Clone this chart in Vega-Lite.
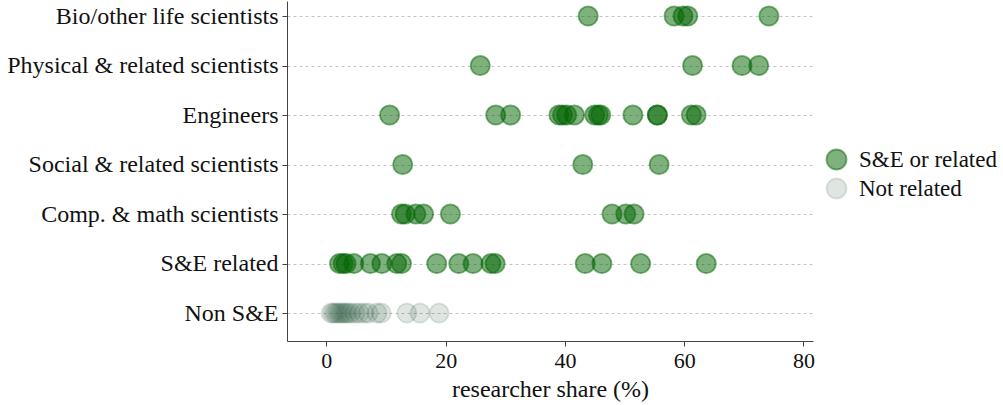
{
  "$schema": "https://vega.github.io/schema/vega-lite/v6.json",
  "autosize": "none",
  "width": 526,
  "height": 340,
  "padding": {"left": 287, "top": 1, "right": 190, "bottom": 64},
  "background": "white",
  "config": {
    "font": "Liberation Serif",
    "view": {"stroke": null},
    "legend": {
      "title": null, "orient": "none", "legendX": 538, "legendY": 147,
      "labelFontSize": 23, "labelColor": "#111", "symbolSize": 400, "symbolStrokeWidth": 1.8,
      "rowPadding": 0, "labelOffset": 11, "padding": 0, "labelLimit": 300
    }
  },
  "data": {
    "values": [
      {"occ": "Bio/other life scientists", "share": 43.9, "type": "S&E or related"},
      {"occ": "Bio/other life scientists", "share": 58.3, "type": "S&E or related"},
      {"occ": "Bio/other life scientists", "share": 59.8, "type": "S&E or related"},
      {"occ": "Bio/other life scientists", "share": 60.6, "type": "S&E or related"},
      {"occ": "Bio/other life scientists", "share": 74.2, "type": "S&E or related"},
      {"occ": "Physical & related scientists", "share": 25.8, "type": "S&E or related"},
      {"occ": "Physical & related scientists", "share": 61.4, "type": "S&E or related"},
      {"occ": "Physical & related scientists", "share": 69.7, "type": "S&E or related"},
      {"occ": "Physical & related scientists", "share": 72.5, "type": "S&E or related"},
      {"occ": "Engineers", "share": 10.6, "type": "S&E or related"},
      {"occ": "Engineers", "share": 28.4, "type": "S&E or related"},
      {"occ": "Engineers", "share": 30.9, "type": "S&E or related"},
      {"occ": "Engineers", "share": 39.0, "type": "S&E or related"},
      {"occ": "Engineers", "share": 39.6, "type": "S&E or related"},
      {"occ": "Engineers", "share": 40.3, "type": "S&E or related"},
      {"occ": "Engineers", "share": 41.6, "type": "S&E or related"},
      {"occ": "Engineers", "share": 45.0, "type": "S&E or related"},
      {"occ": "Engineers", "share": 45.6, "type": "S&E or related"},
      {"occ": "Engineers", "share": 46.0, "type": "S&E or related"},
      {"occ": "Engineers", "share": 51.4, "type": "S&E or related"},
      {"occ": "Engineers", "share": 55.5, "type": "S&E or related"},
      {"occ": "Engineers", "share": 55.5, "type": "S&E or related"},
      {"occ": "Engineers", "share": 61.2, "type": "S&E or related"},
      {"occ": "Engineers", "share": 62.0, "type": "S&E or related"},
      {"occ": "Social & related scientists", "share": 12.8, "type": "S&E or related"},
      {"occ": "Social & related scientists", "share": 43.0, "type": "S&E or related"},
      {"occ": "Social & related scientists", "share": 55.8, "type": "S&E or related"},
      {"occ": "Comp. & math scientists", "share": 12.6, "type": "S&E or related"},
      {"occ": "Comp. & math scientists", "share": 13.2, "type": "S&E or related"},
      {"occ": "Comp. & math scientists", "share": 15.0, "type": "S&E or related"},
      {"occ": "Comp. & math scientists", "share": 16.3, "type": "S&E or related"},
      {"occ": "Comp. & math scientists", "share": 20.8, "type": "S&E or related"},
      {"occ": "Comp. & math scientists", "share": 47.9, "type": "S&E or related"},
      {"occ": "Comp. & math scientists", "share": 50.2, "type": "S&E or related"},
      {"occ": "Comp. & math scientists", "share": 51.6, "type": "S&E or related"},
      {"occ": "S&E related", "share": 2.2, "type": "S&E or related"},
      {"occ": "S&E related", "share": 2.8, "type": "S&E or related"},
      {"occ": "S&E related", "share": 3.3, "type": "S&E or related"},
      {"occ": "S&E related", "share": 4.6, "type": "S&E or related"},
      {"occ": "S&E related", "share": 7.4, "type": "S&E or related"},
      {"occ": "S&E related", "share": 9.3, "type": "S&E or related"},
      {"occ": "S&E related", "share": 11.8, "type": "S&E or related"},
      {"occ": "S&E related", "share": 12.6, "type": "S&E or related"},
      {"occ": "S&E related", "share": 18.5, "type": "S&E or related"},
      {"occ": "S&E related", "share": 22.2, "type": "S&E or related"},
      {"occ": "S&E related", "share": 24.6, "type": "S&E or related"},
      {"occ": "S&E related", "share": 27.6, "type": "S&E or related"},
      {"occ": "S&E related", "share": 28.3, "type": "S&E or related"},
      {"occ": "S&E related", "share": 43.4, "type": "S&E or related"},
      {"occ": "S&E related", "share": 46.2, "type": "S&E or related"},
      {"occ": "S&E related", "share": 52.7, "type": "S&E or related"},
      {"occ": "S&E related", "share": 63.7, "type": "S&E or related"},
      {"occ": "Non S&E", "share": 0.8, "type": "Not related"},
      {"occ": "Non S&E", "share": 1.2, "type": "Not related"},
      {"occ": "Non S&E", "share": 1.6, "type": "Not related"},
      {"occ": "Non S&E", "share": 2.0, "type": "Not related"},
      {"occ": "Non S&E", "share": 2.4, "type": "Not related"},
      {"occ": "Non S&E", "share": 2.8, "type": "Not related"},
      {"occ": "Non S&E", "share": 3.2, "type": "Not related"},
      {"occ": "Non S&E", "share": 3.6, "type": "Not related"},
      {"occ": "Non S&E", "share": 4.1, "type": "Not related"},
      {"occ": "Non S&E", "share": 4.8, "type": "Not related"},
      {"occ": "Non S&E", "share": 5.5, "type": "Not related"},
      {"occ": "Non S&E", "share": 6.3, "type": "Not related"},
      {"occ": "Non S&E", "share": 7.0, "type": "Not related"},
      {"occ": "Non S&E", "share": 8.5, "type": "Not related"},
      {"occ": "Non S&E", "share": 9.2, "type": "Not related"},
      {"occ": "Non S&E", "share": 13.5, "type": "Not related"},
      {"occ": "Non S&E", "share": 15.7, "type": "Not related"},
      {"occ": "Non S&E", "share": 18.9, "type": "Not related"}
    ]
  },
  "mark": {"type": "point", "shape": "circle", "filled": true, "size": 370, "strokeWidth": 1.8, "opacity": 1},
  "encoding": {
    "x": {
      "field": "share", "type": "quantitative",
      "scale": {"domain": [-6.6, 81.6], "nice": false, "zero": false},
      "axis": {
        "title": "researcher share (%)", "values": [0, 20, 40, 60, 80], "grid": false,
        "labelFontSize": 22, "titleFontSize": 24, "titleFontWeight": "normal",
        "labelColor": "#111", "titleColor": "#111",
        "domainColor": "#444", "tickColor": "#444", "tickSize": 5, "labelPadding": 4, "titlePadding": 6
      }
    },
    "y": {
      "field": "occ", "type": "nominal",
      "sort": ["Bio/other life scientists", "Physical & related scientists", "Engineers", "Social & related scientists", "Comp. & math scientists", "S&E related", "Non S&E"],
      "scale": {"type": "point", "padding": 0.434, "align": 0.35},
      "axis": {
        "title": null, "grid": true, "gridDash": [3, 3], "gridColor": "#c4c4c4", "gridWidth": 1,
        "labelFontSize": 24, "labelColor": "#111", "labelPadding": 4, "labelLimit": 400,
        "domainColor": "#444", "tickColor": "#444", "tickSize": 5
      }
    },
    "color": {
      "field": "type", "type": "nominal",
      "scale": {"domain": ["S&E or related", "Not related"], "range": ["#006400", "#285a3c"]},
      "legend": {"symbolOpacity": 1, "encode": {"symbols": {"update": {"fillOpacity": {"signal": "datum.value === 'Not related' ? 0.15 : 0.5"}, "strokeOpacity": {"signal": "datum.value === 'Not related' ? 0.15 : 0.5"}}}}}
    },
    "stroke": {
      "field": "type", "type": "nominal",
      "scale": {"domain": ["S&E or related", "Not related"], "range": ["#006400", "#285a3c"]},
      "legend": {"symbolOpacity": 1, "encode": {"symbols": {"update": {"fillOpacity": {"signal": "datum.value === 'Not related' ? 0.15 : 0.5"}, "strokeOpacity": {"signal": "datum.value === 'Not related' ? 0.15 : 0.5"}}}}}
    },
    "fillOpacity": {
      "field": "type", "type": "nominal",
      "scale": {"domain": ["S&E or related", "Not related"], "range": [0.5, 0.15]},
      "legend": {"symbolOpacity": 1, "encode": {"symbols": {"update": {"fillOpacity": {"signal": "datum.value === 'Not related' ? 0.15 : 0.5"}, "strokeOpacity": {"signal": "datum.value === 'Not related' ? 0.15 : 0.5"}}}}}
    },
    "strokeOpacity": {
      "field": "type", "type": "nominal",
      "scale": {"domain": ["S&E or related", "Not related"], "range": [0.5, 0.15]},
      "legend": {"symbolOpacity": 1, "encode": {"symbols": {"update": {"fillOpacity": {"signal": "datum.value === 'Not related' ? 0.15 : 0.5"}, "strokeOpacity": {"signal": "datum.value === 'Not related' ? 0.15 : 0.5"}}}}}
    }
  }
}
